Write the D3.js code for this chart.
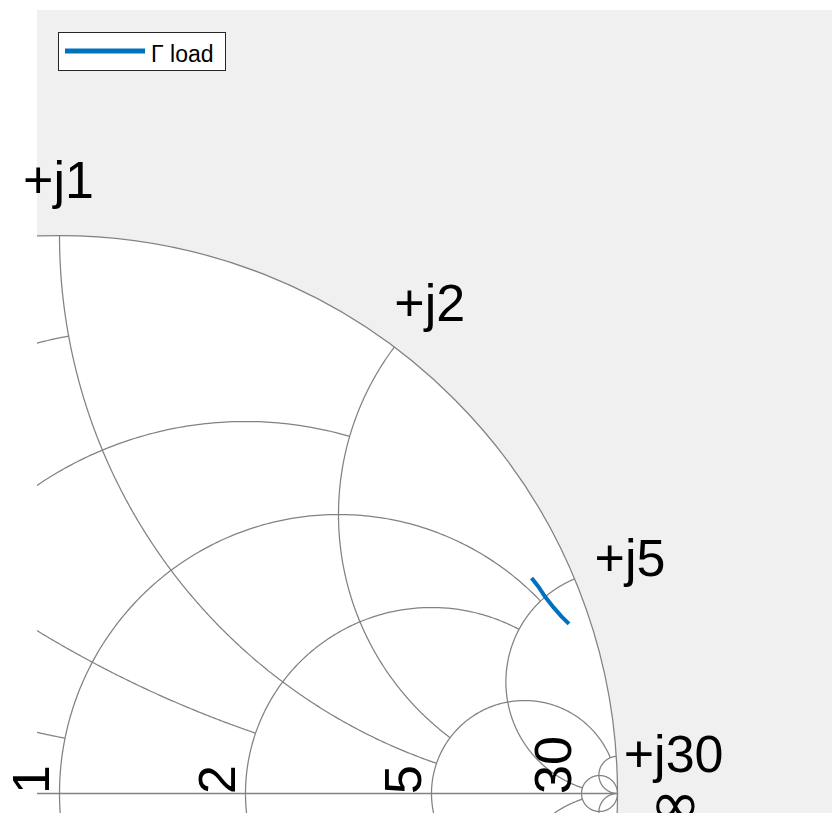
<!DOCTYPE html>
<html>
<head>
<meta charset="utf-8">
<script src="https://cdn.jsdelivr.net/npm/d3@7/dist/d3.min.js"></script>
<style>
  html, body { margin: 0; padding: 0; background: #ffffff; }
  svg { display: block; }
  text { font-family: "Liberation Sans", Arial, Helvetica, sans-serif; fill: #000; }
</style>
</head>
<body>
<svg id="chart" width="832" height="813"></svg>
<script>
// Smith chart grid: every circle value is paired with the limit up to which its arc runs
const gridValues = [0.2, 0.5, 1, 2, 5, 30];
const gridLimits = [1, 2, 5, 5, 30, Infinity];

// Resistance labels along the real axis, reactance labels round the rim
const resistanceTicks = [1, 2, 5, 30];
const resistanceLabels = ["1", "2", "5", "30"];
const reactanceTicks = [1, 2, 5, 30];
const reactanceLabels = ["+j1", "+j2", "+j5", "+j30"];

// Reflection coefficient of the load (real and imaginary parts)
const gammaLoadRe = [0.846, 0.858, 0.870, 0.885, 0.899, 0.913];
const gammaLoadIm = [0.386, 0.371, 0.353, 0.334, 0.318, 0.304];
const seriesName = "Γ load";

const W = 832, H = 813;
const svg = d3.select("#chart");

// Gamma plane -> pixels
const cx = 59.5, cy = 793.5, R = 558;
const x = d3.scaleLinear().domain([-1, 1]).range([cx - R, cx + R]);
const y = d3.scaleLinear().domain([-1, 1]).range([cy + R, cy - R]);
const line = d3.line().x(d => x(d[0])).y(d => y(d[1]));

// page and panel
svg.append("rect").attr("x", 0).attr("y", 0).attr("width", W).attr("height", H).attr("fill", "#ffffff");
svg.append("rect").attr("x", 37).attr("y", 10).attr("width", W - 37).attr("height", H - 10).attr("fill", "#f0f0f0");

svg.append("defs").append("clipPath").attr("id", "panel")
  .append("rect").attr("x", 37).attr("y", 10).attr("width", W - 37).attr("height", H - 10);

const plot = svg.append("g").attr("clip-path", "url(#panel)");

// chart face
plot.append("circle").attr("cx", x(0)).attr("cy", y(0)).attr("r", x(1) - x(0)).attr("fill", "#ffffff");

// constant-resistance arc, limited to |reactance| <= lim
function resistanceArc(r, lim) {
  const c = r / (1 + r), rho = 1 / (1 + r);
  let phi = 0;
  if (isFinite(lim)) {
    const den = (r + 1) ** 2 + lim * lim;
    phi = Math.atan2(2 * lim / den, (r * r + lim * lim - 1) / den - c);
  }
  const pts = [];
  const n = 360;
  for (let i = 0; i <= n; i++) {
    const p = phi + (2 * Math.PI - 2 * phi) * i / n;
    pts.push([c + rho * Math.cos(p), rho * Math.sin(p)]);
  }
  return pts;
}

// constant-reactance arc from the rim up to resistance lim (sign picks upper/lower half)
function reactanceArc(xv, lim, sign) {
  const cc = 1 / xv, rho = 1 / xv;
  const g = r => { const den = (r + 1) ** 2 + xv * xv; return [(r * r + xv * xv - 1) / den, 2 * xv / den]; };
  const g0 = g(0);
  const p0 = Math.atan2(g0[1] - cc, g0[0] - 1);
  let p1;
  if (isFinite(lim)) { const gl = g(lim); p1 = Math.atan2(gl[1] - cc, gl[0] - 1); }
  else p1 = -Math.PI / 2;
  while (p1 < p0) p1 += 2 * Math.PI;
  const pts = [];
  const n = 360;
  for (let i = 0; i <= n; i++) {
    const p = p0 + (p1 - p0) * i / n;
    pts.push([1 + rho * Math.cos(p), sign * (cc + rho * Math.sin(p))]);
  }
  return pts;
}

const grid = plot.append("g").attr("fill", "none").attr("stroke", "#828282").attr("stroke-width", 1.25);

gridValues.forEach((v, i) => {
  grid.append("path").attr("d", line(resistanceArc(v, gridLimits[i])));
  grid.append("path").attr("d", line(reactanceArc(v, gridLimits[i], 1)));
  grid.append("path").attr("d", line(reactanceArc(v, gridLimits[i], -1)));
});

// real axis and rim
grid.append("path").attr("d", line([[-1, 0], [1, 0]])).attr("stroke-width", 1.6);
grid.append("circle").attr("cx", x(0)).attr("cy", y(0)).attr("r", x(1) - x(0));

// load reflection coefficient
const loadPts = gammaLoadRe.map((re, i) => [re, gammaLoadIm[i]]);
plot.append("path").attr("d", line(loadPts))
  .attr("fill", "none").attr("stroke", "#0072bd").attr("stroke-width", 4)
  .attr("stroke-linecap", "butt");

// resistance labels, rotated, just left of each crossing on the real axis
const labels = svg.append("g").attr("font-size", 52);
resistanceTicks.forEach((r, i) => {
  const gx = (r - 1) / (r + 1);
  labels.append("text")
    .attr("transform", `translate(${x(gx) - 11},${y(0) + 0.5}) rotate(-90)`)
    .text(resistanceLabels[i]);
});

// reactance labels outside the rim
const rimOffsets = [
  { dx: -1, dy: -38, anchor: "middle" },
  { dx: 0, dy: -26, anchor: "start" },
  { dx: 20, dy: -3, anchor: "start" },
  { dx: 7.5, dy: 15.3, anchor: "start" }
];
reactanceTicks.forEach((xv, i) => {
  const den = xv * xv + 1;
  const gx = (xv * xv - 1) / den, gy = 2 * xv / den;
  const o = rimOffsets[i];
  labels.append("text")
    .attr("x", x(gx) + o.dx).attr("y", y(gy) + o.dy)
    .attr("text-anchor", o.anchor)
    .text(reactanceLabels[i]);
});

// infinity mark at the open-circuit end
labels.append("text")
  .attr("x", x(1) + 32).attr("y", y(0) + 31)
  .style("font-family", "'DejaVu Sans', sans-serif")
  .attr("font-size", 62)
  .text("∞");

// legend
const lg = svg.append("g");
lg.append("rect").attr("x", 58.5).attr("y", 32.5).attr("width", 167).attr("height", 38)
  .attr("fill", "#ffffff").attr("stroke", "#262626").attr("stroke-width", 1);
lg.append("line").attr("x1", 65).attr("x2", 145).attr("y1", 51).attr("y2", 51)
  .attr("stroke", "#0072bd").attr("stroke-width", 5);
lg.append("text").attr("x", 151).attr("y", 62).attr("font-size", 23).text(seriesName);
</script>
</body>
</html>
